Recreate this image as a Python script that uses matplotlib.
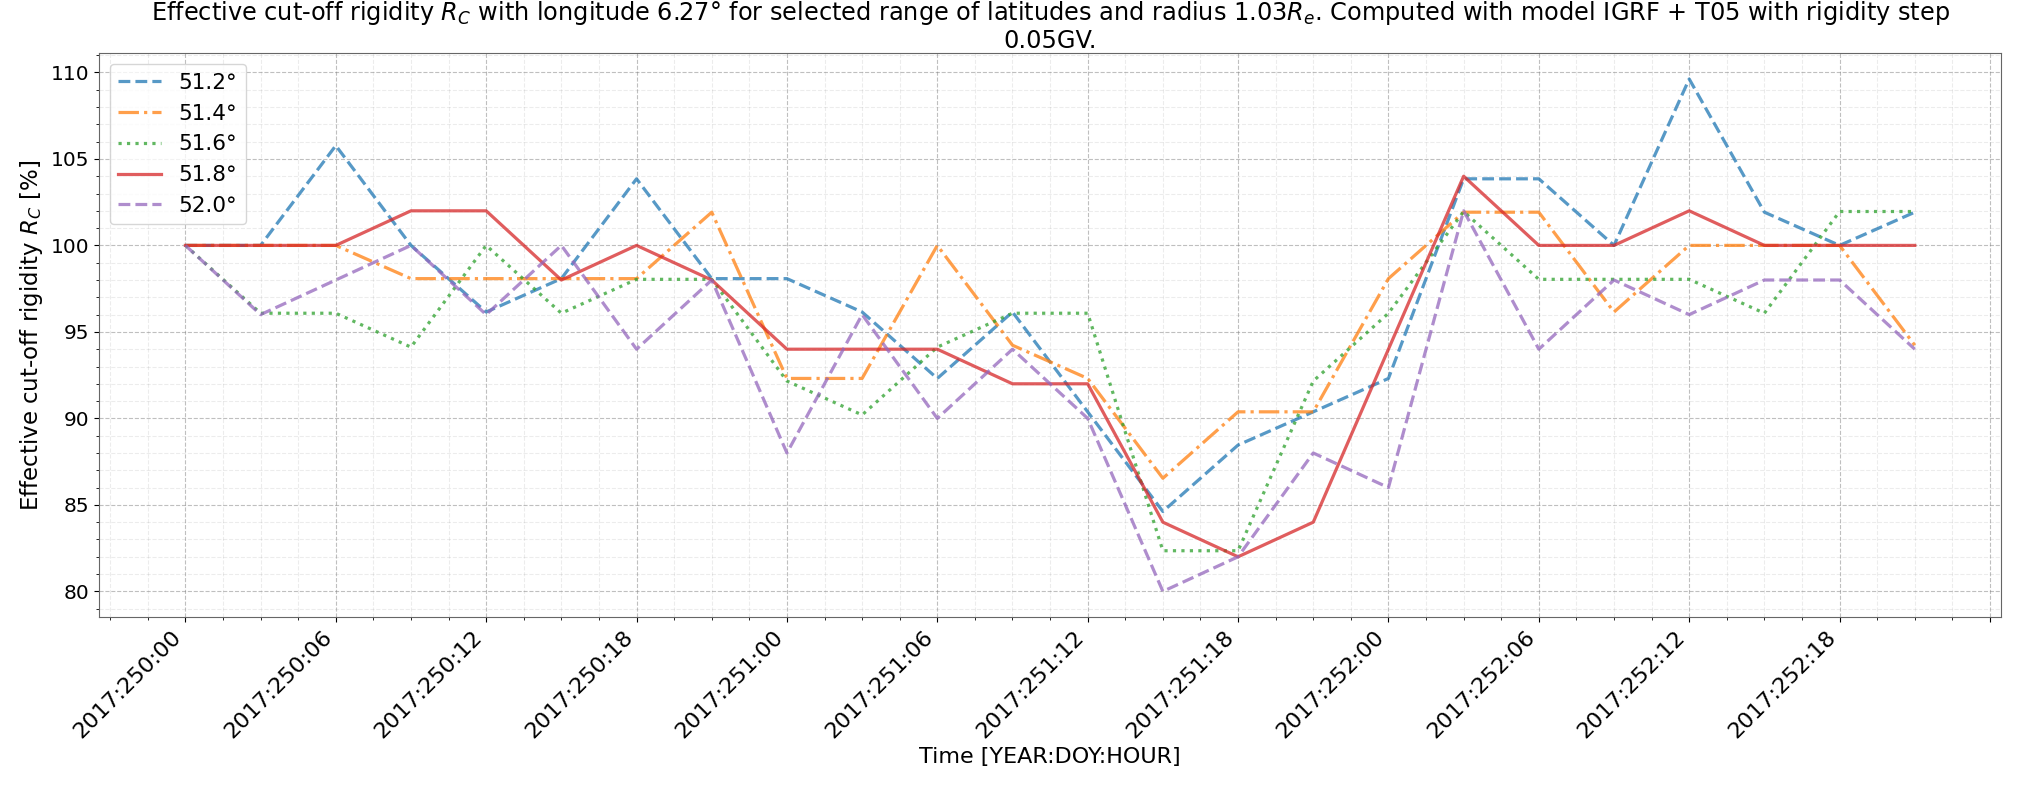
import matplotlib
matplotlib.use("Agg")
import matplotlib.pyplot as plt
from matplotlib.ticker import AutoMinorLocator

# Time steps (YEAR:DOY:HOUR), every 3 hours
times = ["2017:250:00", "2017:250:03", "2017:250:06", "2017:250:09",
         "2017:250:12", "2017:250:15", "2017:250:18", "2017:250:21",
         "2017:251:00", "2017:251:03", "2017:251:06", "2017:251:09",
         "2017:251:12", "2017:251:15", "2017:251:18", "2017:251:21",
         "2017:252:00", "2017:252:03", "2017:252:06", "2017:252:09",
         "2017:252:12", "2017:252:15", "2017:252:18", "2017:252:21"]

latitudes = ["51.2°", "51.4°", "51.6°", "51.8°", "52.0°"]

# relative cut-off rigidity [%] for each latitude
rc_512 = [100.0, 100.0, 105.77, 100.0, 96.15, 98.08, 103.85, 98.08,
          98.08, 96.15, 92.31, 96.15, 90.38, 84.62, 88.46, 90.38,
          92.31, 103.85, 103.85, 100.0, 109.62, 101.92, 100.0, 101.92]
rc_514 = [100.0, 100.0, 100.0, 98.08, 98.08, 98.08, 98.08, 101.92,
          92.31, 92.31, 100.0, 94.23, 92.31, 86.54, 90.38, 90.38,
          98.08, 101.92, 101.92, 96.15, 100.0, 100.0, 100.0, 94.23]
rc_516 = [100.0, 96.08, 96.08, 94.12, 100.0, 96.08, 98.04, 98.04,
          92.16, 90.20, 94.12, 96.08, 96.08, 82.35, 82.35, 92.16,
          96.08, 101.96, 98.04, 98.04, 98.04, 96.08, 101.96, 101.96]
rc_518 = [100, 100, 100, 102, 102, 98, 100, 98,
          94, 94, 94, 92, 92, 84, 82, 84,
          94, 104, 100, 100, 102, 100, 100, 100]
rc_520 = [100, 96, 98, 100, 96, 100, 94, 98,
          88, 96, 90, 94, 90, 80, 82, 88,
          86, 102, 94, 98, 96, 98, 98, 94]

series = [rc_512, rc_514, rc_516, rc_518, rc_520]
styles = ["--", "-.", ":", "-", "--"]
colors = ["tab:blue", "tab:orange", "tab:green", "tab:red", "tab:purple"]


def hours_since_start(stamps):
    d0 = int(stamps[0].split(":")[1])
    out = []
    for s in stamps:
        _, doy, hh = s.split(":")
        out.append((int(doy) - d0) * 24 + int(hh))
    return out


x = hours_since_start(times)

fig, ax = plt.subplots(figsize=(20.4, 7.85), dpi=100)
fig.subplots_adjust(left=0.0485, right=0.981, top=0.932, bottom=0.214)

for vals, lab, ls, c in zip(series, latitudes, styles, colors):
    ax.plot(x, vals, linestyle=ls, color=c, linewidth=2.3, alpha=0.75, label=lab)

# major ticks every 6 hours; one more tick past the data without a label
ticks = list(range(0, x[-1] + 4, 6))
ax.set_xticks(ticks)
ax.set_xticklabels(times[::2] + [""] * (len(ticks) - len(times[::2])),
                   rotation=45, ha="right", fontsize=16)
ax.xaxis.set_minor_locator(AutoMinorLocator(4))
ax.yaxis.set_minor_locator(AutoMinorLocator(5))
ax.tick_params(axis="y", labelsize=14.5)

ax.grid(which="major", linestyle="--", color="gray", alpha=0.5, linewidth=0.8)
ax.grid(which="minor", linestyle="--", color="gray", alpha=0.15, linewidth=0.8)

for sp in ax.spines.values():
    sp.set_color("0.4")

ax.set_xlabel("Time [YEAR:DOY:HOUR]", fontsize=16)
ax.set_ylabel("Effective cut-off rigidity $R_C$ [%]", fontsize=16.5)
ax.set_title("Effective cut-off rigidity $R_C$ with longitude 6.27° for selected range of "
             "latitudes and radius 1.03$R_e$. Computed with model IGRF + T05 with rigidity step\n"
             "0.05GV.", fontsize=17.3, pad=0, linespacing=1.15)
ax.legend(loc="upper left", fontsize=15.5)

fig.savefig("out.png", dpi=100)
